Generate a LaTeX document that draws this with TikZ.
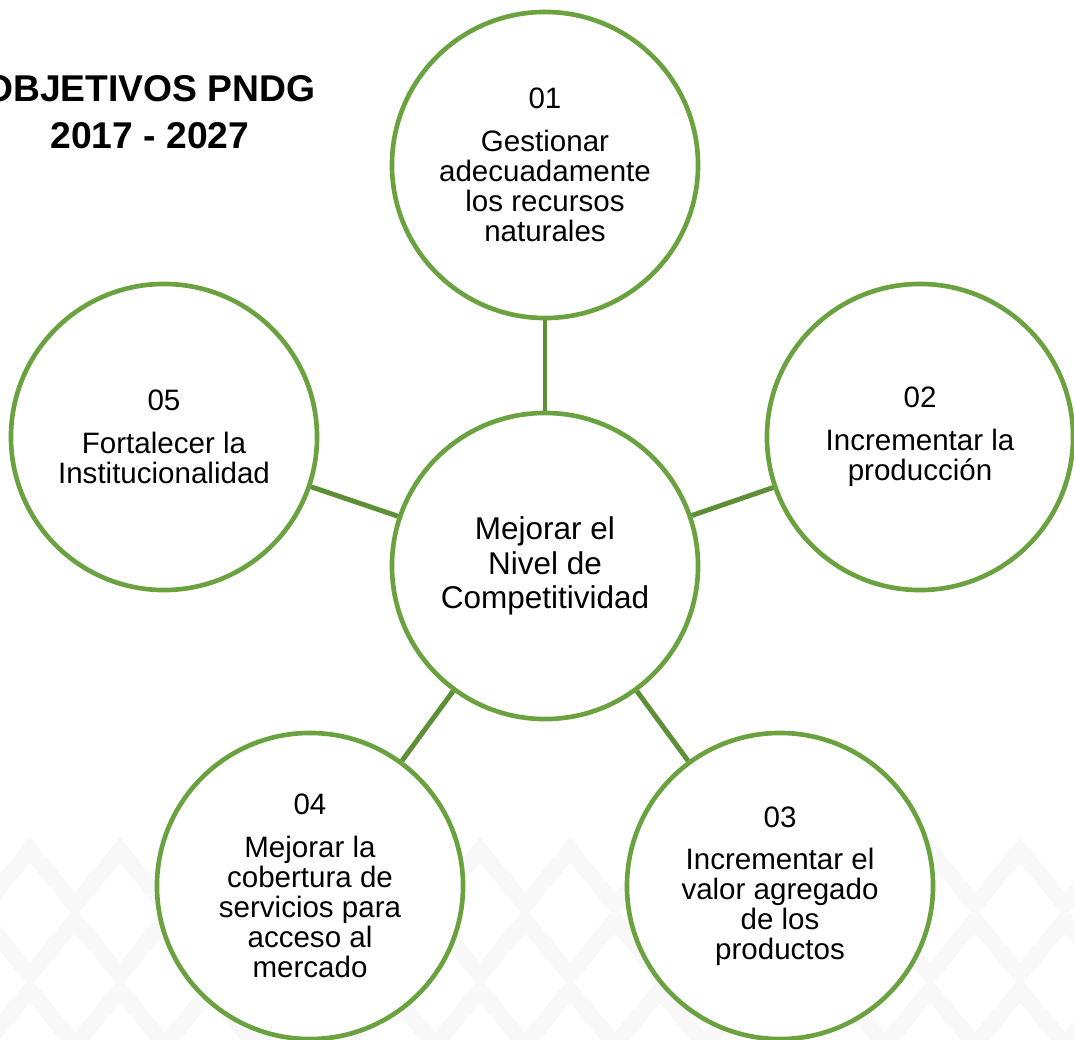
\documentclass[tikz,border=0pt]{standalone}
\usepackage{fontspec}
\setmainfont{Liberation Sans}
\usepackage{xcolor}
\usetikzlibrary{positioning}

\definecolor{ringgreen}{HTML}{6AA23F}
\definecolor{linkgreen}{HTML}{5E8F36}
\definecolor{patterngray}{HTML}{F8F8F8}

\begin{document}
\begin{tikzpicture}[x=0.025cm, y=-0.025cm,
        goal/.style={draw=ringgreen, line width=3.3pt, circle, fill=white, minimum size=7.65cm, inner sep=0pt, align=center, font=\fontsize{21}{21.3}\selectfont},
        core/.style={goal, font=\fontsize{22.4}{24.3}\selectfont},
        link/.style={draw=linkgreen, line width=3.5pt},
        heading/.style={align=center, font=\bfseries\fontsize{26.5}{33}\selectfont}
    ]
    \useasboundingbox (0,0) rectangle (1074,1040);

    % Faint background pattern
    \begin{scope}
    \clip (0,0) rectangle (1074,1040);
    \foreach \row/\sx in {0/-60,1/-105,2/-60,3/-105} {
        \pgfmathsetmacro{\sy}{850+70*\row}
        \draw[draw=patterngray, line width=0.4cm, line join=miter]
            (\sx,\sy) -- ++(45,55) -- ++(45,-55) -- ++(45,55) -- ++(45,-55)
            -- ++(45,55) -- ++(45,-55) -- ++(45,55) -- ++(45,-55)
            -- ++(45,55) -- ++(45,-55) -- ++(45,55) -- ++(45,-55)
            -- ++(45,55) -- ++(45,-55) -- ++(45,55) -- ++(45,-55)
            -- ++(45,55) -- ++(45,-55) -- ++(45,55) -- ++(45,-55)
            -- ++(45,55) -- ++(45,-55) -- ++(45,55) -- ++(45,-55)
            -- ++(45,55) -- ++(45,-55) -- ++(45,55) -- ++(45,-55);
    }
    \end{scope}

    % Title
    \node[heading] (title) at (150,112) {OBJETIVOS PNDG\\2017 - 2027};

    % Central objective
    \node[core] (cen) at (545,566) {Mejorar el\\Nivel de\\Competitividad};

    % Surrounding objectives
    \node[goal] (o1) at (545,165) {01\\[9pt]Gestionar\\adecuadamente\\los recursos\\naturales};
    \node[goal] (o2) at (920,437) {02\\[9pt]Incrementar la\\producción};
    \node[goal] (o3) at (780,886) {03\\[9pt]Incrementar el\\valor agregado\\de los\\productos};
    \node[goal] (o4) at (310,886) {04\\[9pt]Mejorar la\\cobertura de\\servicios para\\acceso al\\mercado};
    \node[goal] (o5) at (164,437) {05\\[9pt]Fortalecer la\\Institucionalidad};

    % Links to the centre
    \foreach \g in {o1,o2,o3,o4,o5}
        \draw[link] (cen) -- (\g);

\end{tikzpicture}
\end{document}
